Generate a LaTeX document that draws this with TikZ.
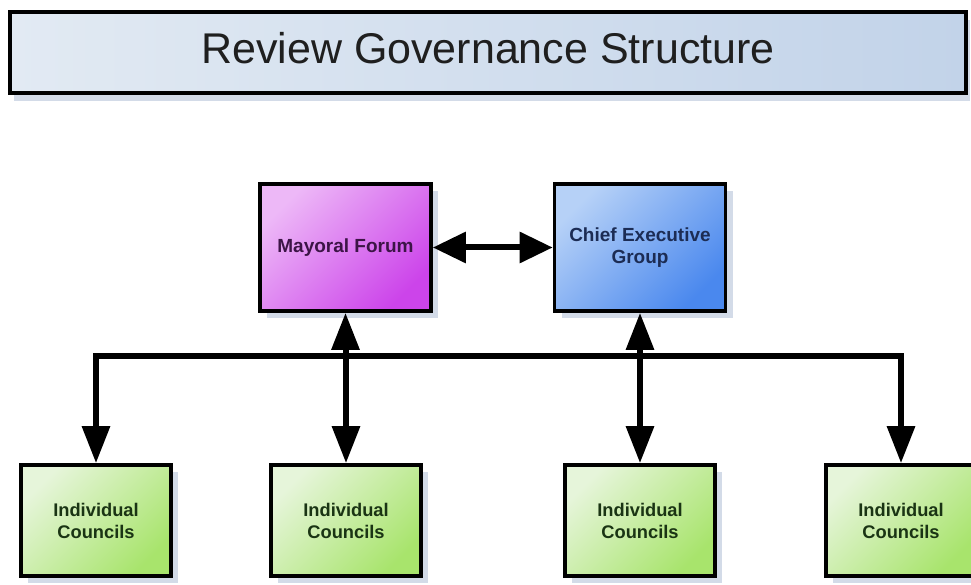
\documentclass[tikz,border=0pt]{standalone}
\usepackage{fontspec}
\setmainfont{Liberation Sans}
\usetikzlibrary{arrows.meta,shadows}
\definecolor{shadowc}{HTML}{D3DBE8}
\definecolor{titleL}{HTML}{E2EAF3}
\definecolor{titleR}{HTML}{C2D3E9}
\definecolor{mfL}{HTML}{EDB8F7}
\definecolor{mfD}{HTML}{CC44EA}
\definecolor{cegL}{HTML}{B6D1F7}
\definecolor{cegD}{HTML}{4A88EE}
\definecolor{grL}{HTML}{E6F5DA}
\definecolor{grD}{HTML}{A8E46C}
\definecolor{mfT}{HTML}{3C1446}
\definecolor{cegT}{HTML}{1C2C54}
\definecolor{grT}{HTML}{1A3414}
\tikzset{
  boxbase/.style={draw=black, line width=3.6pt, rectangle, align=center,
    drop shadow={fill=shadowc, opacity=1, shadow xshift=7pt, shadow yshift=-7pt}},
  topbox/.style={boxbase, minimum width=171pt, minimum height=127pt,
    font=\bfseries\fontsize{19}{22}\selectfont},
  mfbox/.style={topbox, top color=mfL, bottom color=mfD, shading angle=45, text=mfT},
  cegbox/.style={topbox, top color=cegL, bottom color=cegD, shading angle=45, text=cegT},
  grbox/.style={boxbase, minimum width=150pt, minimum height=111pt,
    top color=grL, bottom color=grD, shading angle=45, text=grT,
    font=\bfseries\fontsize{18.3}{22}\selectfont},
  conn/.style={line width=6pt, line join=miter},
  arr/.style={conn, -{Triangle[length=37pt,width=27pt]}},
  darr/.style={conn, {Triangle[length=33pt,width=30pt]}-{Triangle[length=33pt,width=30pt]}},
}
\begin{document}
\begin{tikzpicture}[x=1pt,y=-1pt]
\clip (0,0) rectangle (971,585);
\fill[white] (0,0) rectangle (971,585);
% title
\node[draw=black, line width=3.5pt, minimum width=956pt, minimum height=81pt,
  left color=titleL, right color=titleR, text=black!88, text depth=9pt,
  drop shadow={fill=shadowc, opacity=1, shadow xshift=4pt, shadow yshift=-8pt},
  font=\fontsize{43}{48}\selectfont] (title) at (488,52.5) {Review Governance Structure};
% top boxes
\node[mfbox] (mf) at (345.5,247.5) {Mayoral Forum};
\node[cegbox] (ceg) at (640,247.5) {Chief Executive\\Group};
% councils
\node[grbox] (c1) at (96,520.5) {Individual\\Councils};
\node[grbox] (c2) at (346,520.5) {Individual\\Councils};
\node[grbox] (c3) at (640,520.5) {Individual\\Councils};
\node[grbox] (c4) at (901,520.5) {Individual\\Councils};
% bus
\coordinate (mid) at (500,356);
\draw[arr] (mid) -| (c1.north);
\draw[arr] (mid) -| (c4.north);
\draw[arr] (c2.north |- mid) -- (c2.north);
\draw[arr] (c3.north |- mid) -- (c3.north);
\draw[arr] (mf.south |- mid) -- (mf.south);
\draw[arr] (ceg.south |- mid) -- (ceg.south);
% double arrow
\draw[darr] (mf.east) -- (ceg.west);
\end{tikzpicture}
\end{document}
